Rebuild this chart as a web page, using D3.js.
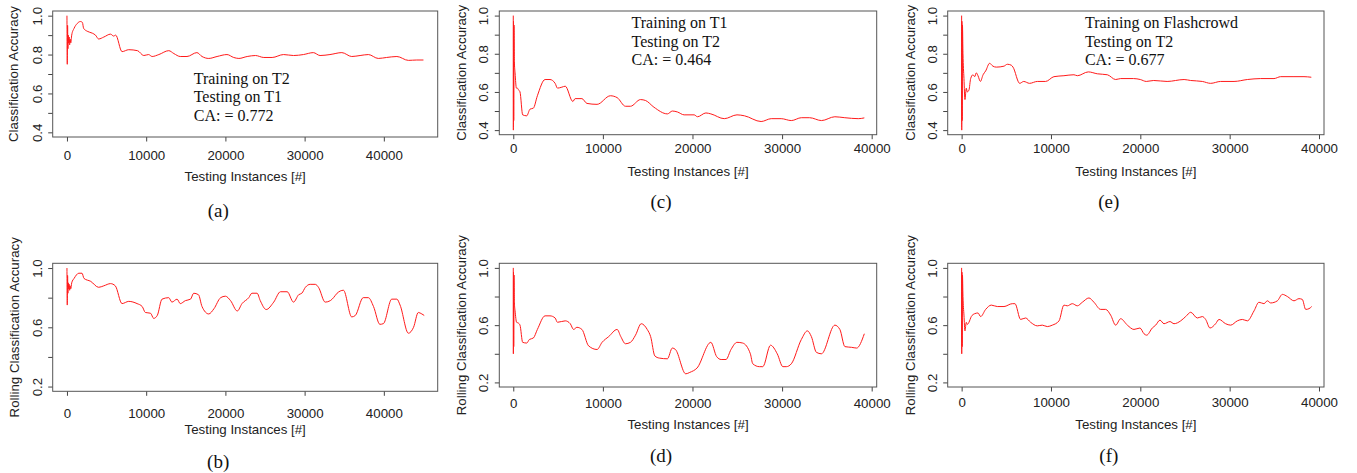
<!DOCTYPE html>
<html>
<head>
<meta charset="utf-8">
<script src="https://cdn.jsdelivr.net/npm/d3@7"></script>
<style>
  body { margin: 0; background: #fff; }
  svg { display: block; }
  .tick text, .lab { font-family: "Liberation Sans", Arial, sans-serif; fill: #222; }
  .note, .cap { font-family: "Liberation Serif", "Times New Roman", serif; fill: #111; }
</style>
</head>
<body>
<svg id="fig" width="1357" height="473"></svg>
<script>
// values: [testing instance, accuracy]
// (a) cumulative, train T2 / test T1
const accT2T1 = [[0,1.0],[40,0.75],[80,0.95],[120,0.83],[170,0.9],[220,0.86],[280,0.89],[340,0.85],[400,0.88],[480,0.86],[600,0.9],[900,0.935],[1300,0.96],[1700,0.97],[1950,0.965],[2100,0.935],[2550,0.92],[3200,0.91],[3600,0.9],[4000,0.88],[4650,0.89],[5500,0.905],[5900,0.895],[6150,0.9],[6950,0.815],[7800,0.825],[8900,0.82],[9700,0.795],[10300,0.8],[10750,0.79],[11600,0.8],[12850,0.82],[13500,0.805],[14300,0.79],[15150,0.79],[16400,0.81],[17050,0.79],[17900,0.78],[18950,0.79],[20200,0.8],[21050,0.785],[21700,0.78],[22750,0.79],[23800,0.795],[24850,0.785],[25900,0.785],[27350,0.8],[28600,0.795],[29850,0.8],[31100,0.81],[31950,0.795],[33200,0.8],[34700,0.81],[35950,0.79],[37000,0.795],[38050,0.8],[39300,0.78],[40350,0.785],[41650,0.79],[43100,0.77],[44150,0.772],[45000,0.772]];
// (b) rolling, train T2 / test T1
const rollT2T1 = [[0,1.0],[40,0.75],[80,0.95],[120,0.83],[170,0.9],[220,0.86],[280,0.89],[340,0.85],[400,0.88],[480,0.86],[600,0.9],[900,0.93],[1500,0.965],[1900,0.965],[2150,0.93],[3000,0.91],[4000,0.87],[4650,0.88],[5500,0.895],[6100,0.88],[6950,0.76],[7800,0.775],[8850,0.76],[9500,0.74],[9900,0.7],[10550,0.695],[10950,0.66],[11400,0.68],[12000,0.79],[12850,0.8],[13250,0.77],[13900,0.79],[14300,0.76],[14950,0.78],[15600,0.79],[16000,0.83],[16600,0.82],[17050,0.74],[17900,0.69],[18550,0.725],[19400,0.8],[20000,0.81],[20650,0.78],[21500,0.71],[22100,0.76],[22950,0.8],[23350,0.83],[24000,0.83],[24400,0.78],[25150,0.72],[26100,0.77],[26950,0.84],[27800,0.84],[28600,0.77],[29250,0.82],[29650,0.83],[30100,0.87],[30700,0.89],[31350,0.89],[31750,0.87],[32600,0.77],[33250,0.78],[33650,0.8],[34100,0.83],[34900,0.85],[35950,0.67],[36400,0.68],[37400,0.8],[38050,0.8],[38700,0.74],[39500,0.62],[39950,0.625],[41000,0.79],[41650,0.79],[42050,0.75],[43100,0.56],[43750,0.6],[44350,0.7],[44800,0.69],[45100,0.68]];
// (c) cumulative, train T1 / test T2
const accT1T2 = [[0,1.0],[10,0.4],[25,0.97],[50,0.45],[80,0.95],[120,0.76],[200,0.7],[350,0.62],[450,0.62],[600,0.61],[750,0.6],[1050,0.48],[1500,0.475],[1870,0.51],[2240,0.515],[2690,0.58],[3550,0.665],[4100,0.665],[4670,0.645],[4930,0.62],[5420,0.625],[5800,0.63],[6650,0.55],[6900,0.565],[7660,0.565],[8220,0.54],[9350,0.535],[10840,0.58],[11600,0.57],[12520,0.525],[13080,0.525],[14200,0.56],[14770,0.555],[15700,0.52],[17200,0.485],[17760,0.5],[18320,0.495],[19070,0.48],[20190,0.48],[20560,0.47],[21500,0.49],[22050,0.485],[23550,0.46],[24970,0.48],[25800,0.475],[27660,0.445],[28790,0.46],[29900,0.46],[31030,0.45],[32150,0.465],[33080,0.465],[34400,0.45],[35890,0.47],[37000,0.465],[38500,0.46],[39180,0.464]];
// (d) rolling, train T1 / test T2
const rollT1T2 = [[0,1.0],[10,0.4],[25,0.97],[50,0.45],[80,0.95],[120,0.76],[200,0.7],[370,0.62],[560,0.615],[750,0.6],[1050,0.48],[1500,0.475],[1800,0.5],[2240,0.51],[2690,0.57],[3550,0.665],[4100,0.665],[4670,0.65],[4930,0.62],[5800,0.63],[6360,0.61],[6730,0.57],[7100,0.585],[7660,0.57],[8410,0.455],[9350,0.43],[9910,0.48],[10650,0.52],[11590,0.57],[12000,0.52],[12520,0.47],[13080,0.48],[13640,0.53],[14280,0.61],[14950,0.57],[15330,0.52],[15800,0.385],[16300,0.37],[17200,0.365],[17750,0.44],[18100,0.43],[19250,0.26],[19700,0.27],[20500,0.3],[22050,0.48],[22700,0.38],[23200,0.36],[23740,0.36],[24300,0.43],[24970,0.48],[25600,0.475],[26460,0.4],[26730,0.33],[27470,0.31],[27850,0.31],[28710,0.46],[29460,0.4],[30090,0.31],[30470,0.31],[31030,0.33],[32150,0.5],[32820,0.56],[33270,0.52],[33830,0.41],[34390,0.4],[35890,0.6],[36450,0.57],[37010,0.45],[37760,0.445],[38320,0.44],[39180,0.54]];
// (e) cumulative, train Flashcrowd / test T2
const accFcT2 = [[0,1.0],[10,0.4],[30,0.97],[60,0.45],[90,0.95],[150,0.8],[260,0.67],[370,0.56],[520,0.62],[630,0.6],[820,0.61],[1010,0.67],[1270,0.69],[1460,0.68],[1640,0.7],[1830,0.685],[2100,0.655],[2400,0.69],[2690,0.71],[3130,0.75],[3500,0.735],[3880,0.73],[4740,0.735],[5110,0.745],[5560,0.74],[5750,0.73],[6500,0.645],[6950,0.655],[7600,0.645],[8470,0.655],[9400,0.655],[10330,0.68],[11450,0.685],[12570,0.69],[12950,0.685],[14180,0.705],[15190,0.695],[16310,0.69],[17240,0.665],[17800,0.67],[19250,0.67],[20000,0.665],[20670,0.655],[21500,0.66],[23000,0.655],[24900,0.665],[25630,0.66],[26940,0.655],[27870,0.645],[28990,0.655],[30490,0.655],[31980,0.665],[33470,0.67],[34960,0.67],[35710,0.68],[37200,0.68],[38320,0.68],[39140,0.677]];
// (f) rolling, train Flashcrowd / test T2
const rollFcT2 = [[0,1.0],[10,0.4],[30,0.97],[60,0.45],[90,0.95],[150,0.8],[260,0.67],[370,0.56],[520,0.62],[630,0.605],[820,0.62],[1080,0.66],[1460,0.68],[1830,0.685],[2130,0.66],[2690,0.71],[3320,0.74],[3990,0.73],[4740,0.73],[5670,0.75],[5970,0.75],[6600,0.64],[7160,0.65],[7720,0.62],[8470,0.595],[9030,0.6],[9590,0.59],[10150,0.6],[10900,0.63],[11450,0.74],[11830,0.735],[12390,0.75],[12950,0.735],[13510,0.76],[14250,0.79],[14810,0.76],[15560,0.71],[16120,0.71],[16680,0.67],[17240,0.6],[17800,0.645],[18550,0.6],[19290,0.57],[19960,0.58],[20410,0.54],[20710,0.53],[21340,0.58],[21720,0.6],[22200,0.635],[22650,0.61],[23320,0.625],[23770,0.61],[24520,0.63],[25080,0.66],[25640,0.69],[26380,0.65],[26940,0.66],[27310,0.64],[27800,0.58],[28430,0.61],[28810,0.64],[29550,0.61],[30110,0.6],[30860,0.63],[31420,0.64],[31980,0.63],[32730,0.7],[33280,0.76],[33840,0.75],[34220,0.77],[34590,0.755],[35340,0.77],[35900,0.815],[36460,0.8],[37200,0.77],[37760,0.785],[38130,0.78],[38510,0.71],[38880,0.715],[39180,0.73]];

// tick values and which get a label (R drops labels that would overlap)
const xTicks = [0, 10000, 20000, 30000, 40000];
const yTicksTop = [0.4, 0.5, 0.6, 0.7, 0.8, 0.9, 1.0];
const yLabelsTop = [0.4, 0.6, 0.8, 1.0];
const yTicksBottom = [0.2, 0.4, 0.6, 0.8, 1.0];
const yLabelsBottom = [0.2, 0.6, 1.0];

const captions = ["(a)", "(b)", "(c)", "(d)", "(e)", "(f)"];
const notes = {
  a: ["Training on T2", "Testing on T1", "CA: = 0.772"],
  c: ["Training on T1", "Testing on T2", "CA: = 0.464"],
  e: ["Training on Flashcrowd", "Testing on T2", "CA: = 0.677"]
};

const xTitle = "Testing Instances [#]";
const yTitleTop = "Classification Accuracy";
const yTitleBottom = "Rolling Classification Accuracy";

// R pads axis ranges by 4% on both sides
function pad(lo, hi) { let d = (hi - lo) * 0.04; return [lo - d, hi + d]; }

// layout: plot boxes and where the surrounding text sits (page px)
let panels = [
  {id: "a", data: accT2T1, cap: captions[0], xmax: 45000, top: true,
   box: [52.7, 11, 437.7, 137], xlab: 155, xtitle: 176, capY: 210, ylab: 13.5, ytick: 37.3,
   note: notes.a, noteAt: [16000, 0.65]},
  {id: "b", data: rollT2T1, cap: captions[1], xmax: 45000, top: false,
   box: [52.7, 263.3, 437.7, 391.3], xlab: 413.3, xtitle: 429.3, capY: 461.7, ylab: 14, ytick: 37.3},
  {id: "c", data: accT1T2, cap: captions[2], xmax: 39000, top: true,
   box: [499.3, 11, 876.7, 134.7], xlab: 148.7, xtitle: 171.7, capY: 201.7, ylab: 461.7, ytick: 483.3,
   note: notes.c, noteAt: [13200, 0.933]},
  {id: "d", data: rollT1T2, cap: captions[3], xmax: 39000, top: false,
   box: [499.3, 263.3, 876.7, 387], xlab: 403.3, xtitle: 424.3, capY: 455, ylab: 461.7, ytick: 483.3},
  {id: "e", data: accFcT2, cap: captions[4], xmax: 39000, top: true,
   box: [947.7, 11, 1324, 134.7], xlab: 148.7, xtitle: 171.7, capY: 201.7, ylab: 910, ytick: 932.3,
   note: notes.e, noteAt: [13800, 0.933]},
  {id: "f", data: rollFcT2, cap: captions[5], xmax: 39000, top: false,
   box: [947.7, 263.3, 1324, 387], xlab: 402.7, xtitle: 424.3, capY: 455, ylab: 910, ytick: 932.3}
];

const svg = d3.select("#fig");
const FS = 13.3;      // axis text size
const TICK = 4.5;     // outward tick length

panels.forEach((p) => {
  let [x0, y0, x1, y1] = p.box;
  let x = d3.scaleLinear().domain(pad(0, p.xmax)).range([x0, x1]);
  let y = d3.scaleLinear().domain(p.top ? pad(0.4, 1.0) : pad(0.2, 1.0)).range([y1, y0]);
  let yTicks = p.top ? yTicksTop : yTicksBottom;
  let yLabels = p.top ? yLabelsTop : yLabelsBottom;

  let g = svg.append("g");

  // x axis at the bottom of the box
  let gx = g.append("g")
    .attr("transform", `translate(0, ${y1})`)
    .call(d3.axisBottom(x).tickValues(xTicks).tickSize(TICK).tickSizeOuter(0).tickFormat(d3.format("d")));
  gx.select(".domain").remove();
  gx.selectAll("line").attr("stroke", "#444");
  gx.selectAll("text")
    .attr("y", p.xlab - y1).attr("dy", "0.35em")
    .attr("font-size", FS);

  // y axis: labels rotated like R's default
  let gy = g.append("g")
    .attr("transform", `translate(${x0}, 0)`)
    .call(d3.axisLeft(y).tickValues(yTicks).tickSize(TICK).tickSizeOuter(0)
      .tickFormat((d) => yLabels.some((v) => Math.abs(v - d) < 1e-9) ? d3.format(".1f")(d) : ""));
  gy.select(".domain").remove();
  gy.selectAll("line").attr("stroke", "#444");
  gy.selectAll("text")
    .attr("x", 0).attr("y", 0).attr("dy", "0.35em")
    .attr("transform", `translate(${p.ytick - x0}, 0) rotate(-90)`)
    .attr("text-anchor", "middle")
    .attr("font-size", FS);

  // the curve (monotone so the rolling waves stay rounded like the original)
  g.append("path")
    .datum(p.data)
    .attr("fill", "none")
    .attr("stroke", "#ff1a1a")
    .attr("stroke-width", 1)
    .attr("stroke-linejoin", "round")
    .attr("d", d3.line().curve(d3.curveMonotoneX).x((d) => x(d[0])).y((d) => y(d[1])));

  // frame
  g.append("rect")
    .attr("x", x0).attr("y", y0)
    .attr("width", x1 - x0).attr("height", y1 - y0)
    .attr("fill", "none").attr("stroke", "#555").attr("stroke-width", 1);

  // axis titles
  g.append("text").attr("class", "lab")
    .attr("x", (x0 + x1) / 2).attr("y", p.xtitle).attr("dy", "0.35em")
    .attr("text-anchor", "middle").attr("font-size", FS)
    .text(xTitle);
  g.append("text").attr("class", "lab")
    .attr("transform", `translate(${p.ylab}, ${(y0 + y1) / 2}) rotate(-90)`)
    .attr("dy", "0.35em")
    .attr("text-anchor", "middle").attr("font-size", FS)
    .text(p.top ? yTitleTop : yTitleBottom);

  // sub-figure caption
  g.append("text").attr("class", "cap")
    .attr("x", (x0 + x1) / 2 - 27).attr("y", p.capY).attr("dy", "0.35em")
    .attr("text-anchor", "middle").attr("font-size", 19)
    .text(p.cap);

  // annotation block
  if (p.note) {
    g.append("g").selectAll("text")
      .data(p.note)
      .enter().append("text")
      .attr("class", "note")
      .attr("x", x(p.noteAt[0]))
      .attr("y", (d, i) => y(p.noteAt[1]) + i * 18.4)
      .attr("font-size", 16)
      .text((d) => d);
  }
});
</script>
</body>
</html>
